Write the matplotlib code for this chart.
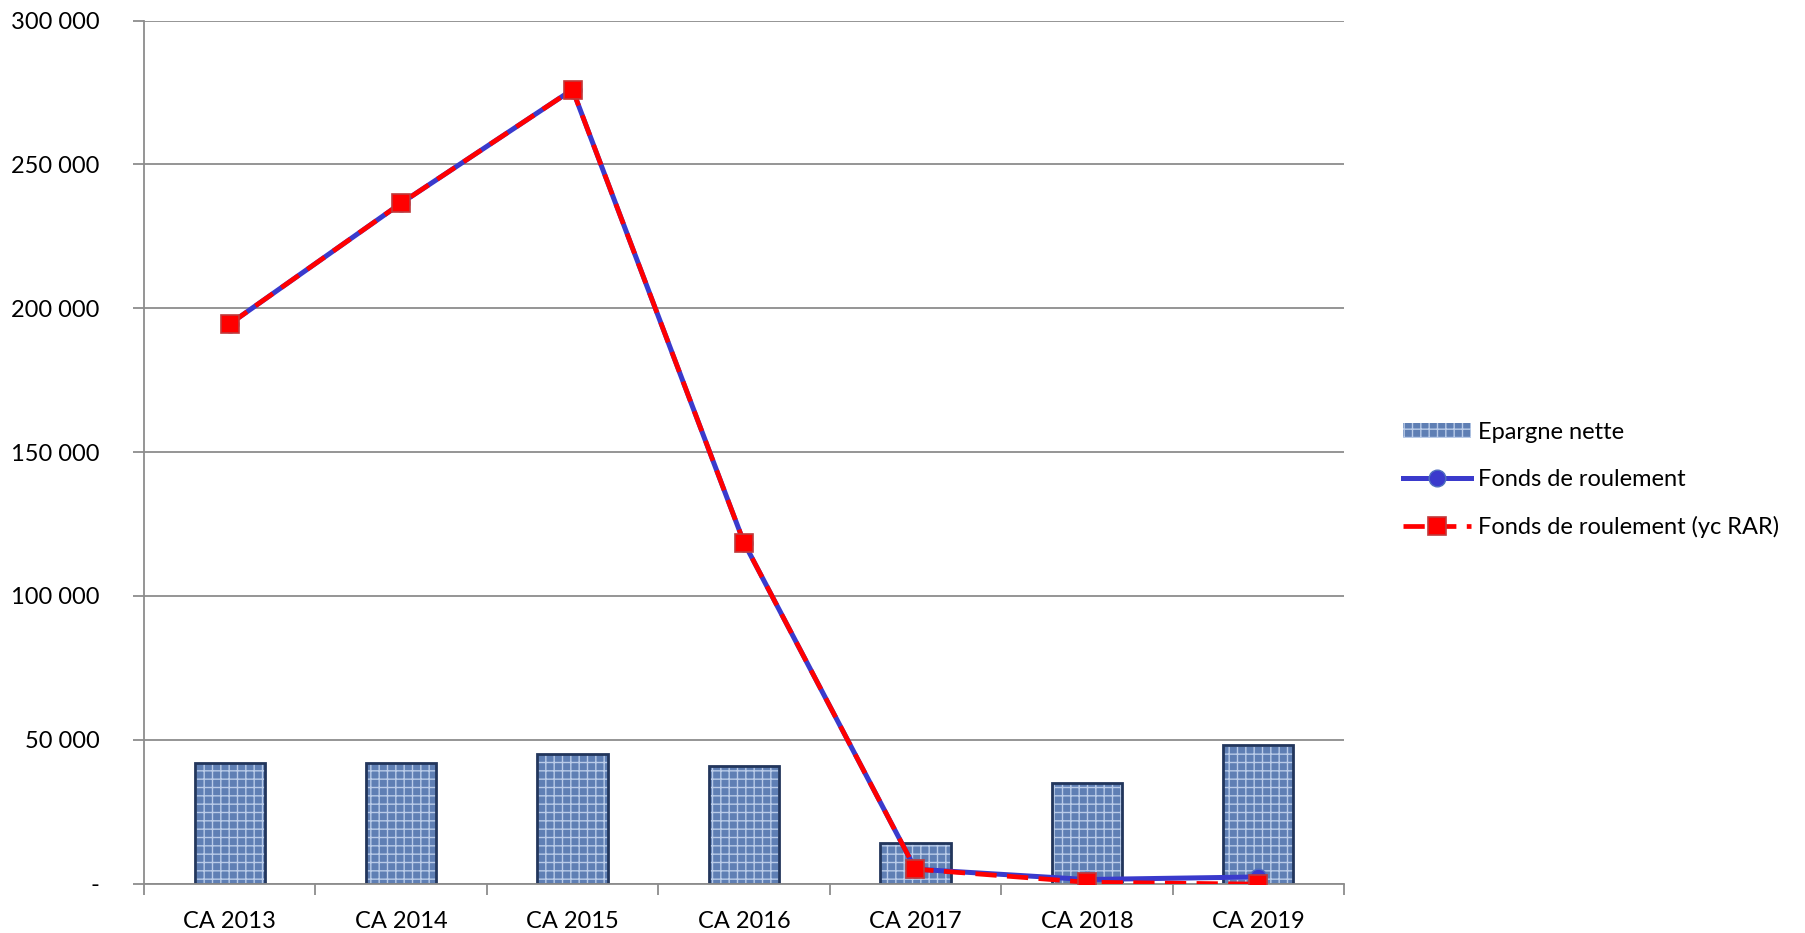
import matplotlib.pyplot as plt
import matplotlib.ticker as mticker
import numpy as np

plt.rcParams['font.family'] = ['Lato', 'DejaVu Sans']

categories = ["CA 2013", "CA 2014", "CA 2015", "CA 2016", "CA 2017", "CA 2018", "CA 2019"]
epargne_nette = [42000, 42000, 45000, 41000, 14000, 35000, 48000]
fonds_roulement = [194500, 236500, 276000, 118500, 5000, 1400, 2300]
fonds_roulement_rar = [194500, 236500, 276000, 118500, 5000, 450, -200]

fig = plt.figure(figsize=(18.06, 9.33), dpi=100)
ax = fig.add_axes([0.0797, 0.053, 0.6645, 0.925])

x = np.arange(len(categories))
grey = "#8c8c8c"

# barres texturées (approximation du motif)
bars = ax.bar(x, epargne_nette, width=0.41, color="#5f7fb4", edgecolor="#b9cbe8",
              hatch="++", linewidth=0, zorder=2, label="Epargne nette")
ax.bar(x, epargne_nette, width=0.41, fill=False, edgecolor="#22365c",
       linewidth=2, zorder=2.1)

l1, = ax.plot(x, fonds_roulement, color="#3a3acc", linewidth=3.6, marker="o",
              markersize=12, markerfacecolor="#3a3acc", markeredgecolor="#4f6fc0",
              zorder=3, label="Fonds de roulement")
l2, = ax.plot(x, fonds_roulement_rar, color="#ff0000", linewidth=3.4, dashes=(4.5, 2.2),
              marker="s", markersize=13, markerfacecolor="#ff0000",
              markeredgecolor="#c0393b", markeredgewidth=1.2, zorder=4,
              label="Fonds de roulement (yc RAR)")

ax.set_xlim(-0.5, len(categories) - 0.5)
ax.set_ylim(0, 300000)
ax.yaxis.set_major_locator(mticker.MultipleLocator(50000))

def fmt(v, pos):
    if v == 0:
        return "-"
    return "{:,.0f}".format(v).replace(",", " ")

ax.yaxis.set_major_formatter(mticker.FuncFormatter(fmt))
ax.grid(axis="y", color=grey, linewidth=1.3, zorder=0)
ax.set_axisbelow(True)

ax.set_xticks(x)
ax.set_xticklabels(categories)
ax.set_xticks(np.arange(-0.5, len(categories)), minor=True)
ax.tick_params(axis="x", which="major", length=0, pad=20, labelsize=17)
ax.tick_params(axis="x", which="minor", length=8, width=1.3, color=grey)
ax.tick_params(axis="y", length=8, width=1.3, color=grey, pad=24, labelsize=17)

for side in ["top", "right"]:
    ax.spines[side].set_visible(False)
for side in ["left", "bottom"]:
    ax.spines[side].set_color(grey)
    ax.spines[side].set_linewidth(1.3)

fig.legend([bars, l1, l2], ["Epargne nette", "Fonds de roulement", "Fonds de roulement (yc RAR)"],
           loc="center left", bbox_to_anchor=(0.765, 0.486), frameon=False,
           fontsize=17, handlelength=2.9, handleheight=0.6, labelspacing=1.1,
           handletextpad=0.3)

fig.savefig("out.png", dpi=100)
